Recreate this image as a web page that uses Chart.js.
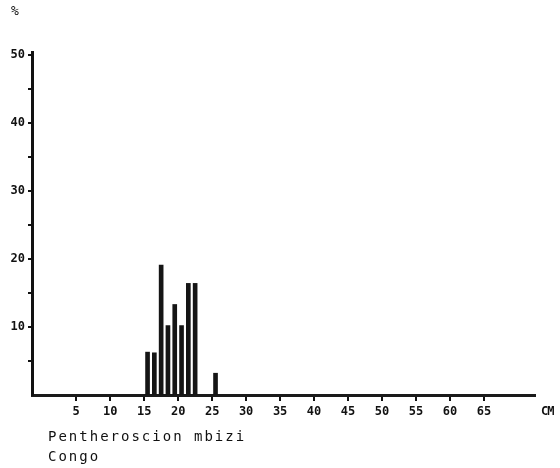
<!DOCTYPE html>
<html>
<head>
<meta charset="utf-8">
<script src="https://cdn.jsdelivr.net/npm/chart.js@4"></script>
<style>
  body { margin: 0; background: #fff; }
  #wrap { position: relative; width: 560px; height: 468px; }
  .lbl { position: absolute; font-family: "DejaVu Sans Mono", monospace; color: #111; white-space: pre; }
</style>
</head>
<body>
<div id="wrap">
  <canvas id="c" width="560" height="468"></canvas>
  <div class="lbl" style="left:11px; top:3px; font-size:13px;">%</div>
  <div class="lbl" style="left:541px; top:404px; font-size:12px; font-weight:bold; letter-spacing:-1px;">CM</div>
  <div class="lbl" style="left:48px; top:428px; font-size:14px; letter-spacing:2px;">Pentheroscion mbizi</div>
  <div class="lbl" style="left:48px; top:448px; font-size:14px; letter-spacing:2px;">Congo</div>
</div>
<script>
// length classes (cm, bin centres) and share of catch (%)
const lengths = [15.5, 16.5, 17.5, 18.5, 19.5, 20.5, 21.5, 22.5, 25.5];
const percents = [6.3, 6.2, 19.1, 10.2, 13.3, 10.2, 16.4, 16.4, 3.2];
const xTicks = [5, 10, 15, 20, 25, 30, 35, 40, 45, 50, 55, 60, 65];
const yTicks = [5, 10, 15, 20, 25, 30, 35, 40, 45, 50];
const yLabels = [10, 20, 30, 40, 50];

const tickFont = { family: "DejaVu Sans Mono", size: 12, weight: "bold" };

new Chart(document.getElementById("c").getContext("2d"), {
    type: "bar",
    data: {
        datasets: [{
            data: lengths.map((x, i) => ({ x: x, y: percents[i] })),
            backgroundColor: "#151515",
            barThickness: 4
        }]
    },
    options: {
        responsive: false,
        animation: false,
        layout: { padding: { top: 52, right: 25 } },
        plugins: { legend: { display: false }, tooltip: { enabled: false } },
        scales: {
            x: {
                type: "linear",
                offset: false,
                min: -1.5, max: 72.5,
                afterBuildTicks: s => { s.ticks = xTicks.map(v => ({ value: v })); },
                afterFit: s => { s.height = 73; },
                ticks: { color: "#111", font: tickFont, padding: 4, maxRotation: 0, autoSkip: false },
                grid: { drawOnChartArea: false, offset: false, tickLength: 6, color: "#111", lineWidth: 2 },
                border: { color: "#1a1a1a", width: 3 }
            },
            y: {
                min: 0, max: 50.4,
                afterBuildTicks: s => { s.ticks = yTicks.map(v => ({ value: v })); },
                afterFit: s => { s.width = 32; },
                ticks: {
                    color: "#111", font: tickFont, padding: 3, autoSkip: false,
                    callback: v => yLabels.includes(v) ? v : ""
                },
                grid: { drawOnChartArea: false, tickLength: 4, color: "#111", lineWidth: 2 },
                border: { color: "#111", width: 3 }
            }
        }
    }
});
</script>
</body>
</html>
